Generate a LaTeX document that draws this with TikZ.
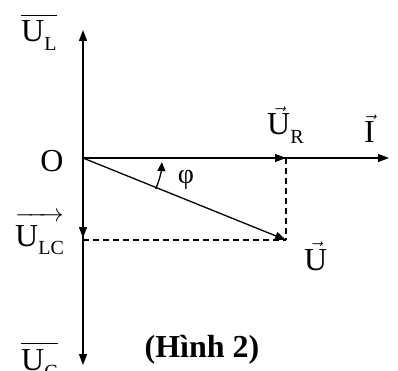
\documentclass[tikz,border=0pt]{standalone}
\usepackage{fontspec}
\setmainfont{Liberation Serif}
\usetikzlibrary{arrows.meta,calc}
\newcommand\subs[1]{\raisebox{-0.28em}{\fontsize{20}{20}\selectfont #1}}
\newcommand\tallU{\rule{0pt}{0.8em}U}
\begin{document}
\begin{tikzpicture}[x=1pt,y=-1pt,
  vec/.style={line width=1.3pt,-{Triangle[length=11pt,width=8pt]}},
  dsh/.style={line width=1.3pt,dash pattern=on 6pt off 4pt},
  lbl/.style={font=\fontsize{32}{34}\selectfont,inner sep=0pt,anchor=base west}]
\useasboundingbox (0,0) rectangle (398,371);
\coordinate (O) at (83,158);
\coordinate (top) at (83,30);
\coordinate (bot) at (83,365);
\coordinate (I) at (389,158);
\coordinate (UR) at (286,158);
\coordinate (U) at (286,240);
\coordinate (ULC) at (83,238);
\coordinate (D) at (83,240);
\draw[vec] (O) -- (top);
\draw[vec] (O) -- (bot);
\draw[vec] (O) -- (I);
\draw[vec] (O) -- (UR);
\draw[vec] (O) -- (U);
\draw[vec] (O) -- (ULC);
\draw[dsh] (UR) -- (U);
\draw[dsh] (D) -- (U);
\draw[line width=1.3pt,-{Triangle[length=9pt,width=8pt]}] ($(O)+(23:79)$) arc[start angle=23,end angle=3,radius=79];
\node[lbl,anchor=center] (lO) at (52,161) {O};
\node[lbl,anchor=center,font=\fontsize{28}{30}\selectfont] (lphi) at (186,180) {φ};
\node[lbl] (lUL) at (21,42) {$\overline{\hbox{\tallU\subs{L}}}$};
\node[lbl] (lULC) at (15,246) {$\overrightarrow{\hbox{\tallU\subs{LC}}}$};
\node[lbl] (lUC) at (21,370) {$\overline{\hbox{\tallU\subs{C}}}$};
\node[lbl] (lUR) at (267,135) {$\vec{\hbox{U}}$\subs{R}};
\node[lbl] (lI) at (364,143) {$\vec{\hbox{I}}$};
\node[lbl] (lU) at (304,270) {$\vec{\hbox{U}}$};
\node[lbl,anchor=center,font=\bfseries\fontsize{32}{34}\selectfont] (cap) at (202,350) {(Hình 2)};
\end{tikzpicture}
\end{document}
